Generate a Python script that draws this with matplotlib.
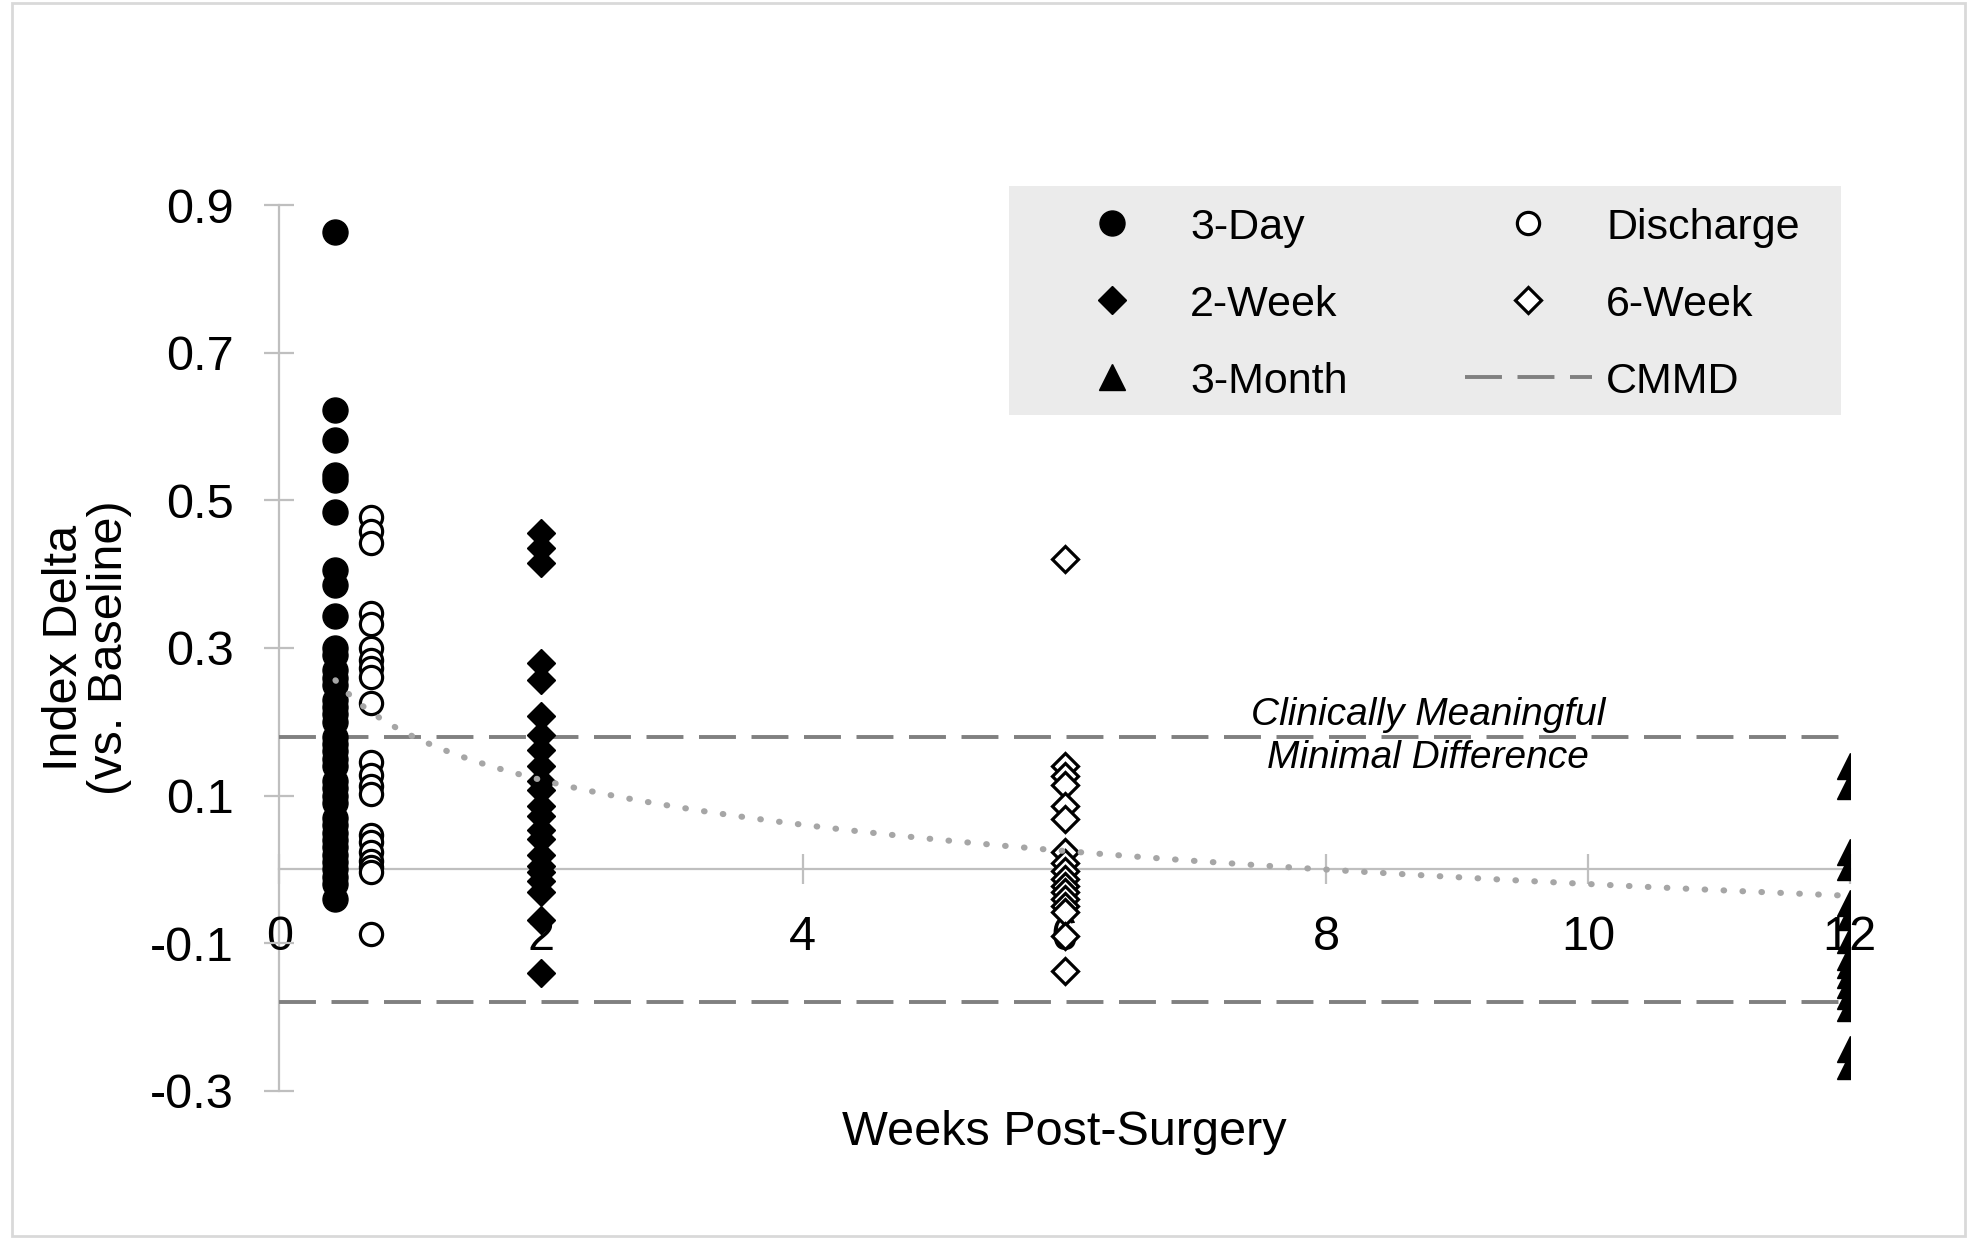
import numpy as np
import matplotlib.pyplot as plt
from matplotlib.patches import Rectangle
from matplotlib.lines import Line2D

plt.rcParams['font.family'] = ['Liberation Sans', 'DejaVu Sans']
plt.rcParams['axes.unicode_minus'] = False

# weeks post-surgery for each visit
x_day3 = 3 / 7
x_discharge = 0.7
x_week2 = 2
x_week6 = 6
x_month3 = 12

# index delta vs baseline
day3 = [0.863, 0.623, 0.582, 0.535, 0.527, 0.484, 0.405, 0.385, 0.343,
        0.30, 0.29, 0.27, 0.26, 0.25, 0.23, 0.22, 0.21, 0.20, 0.18, 0.17,
        0.16, 0.15, 0.14, 0.12, 0.11, 0.10, 0.09, 0.07, 0.06, 0.05, 0.04,
        0.03, 0.02, 0.01, 0.00, -0.01, -0.02, -0.04]
discharge = [0.477, 0.459, 0.442, 0.348, 0.333, 0.300, 0.284, 0.273, 0.261,
             0.225, 0.145, 0.128, 0.113, 0.102, 0.047, 0.037, 0.024, 0.012,
             0.004, -0.004, -0.088]
week2 = [0.456, 0.436, 0.415, 0.280, 0.257, 0.208, 0.182, 0.162, 0.140,
         0.120, 0.108, 0.086, 0.072, 0.054, 0.041, 0.019, 0.005, -0.004,
         -0.016, -0.031, -0.068, -0.140]
week6 = [0.420, 0.140, 0.126, 0.115, 0.086, 0.068, 0.023, 0.009, -0.002,
         -0.013, -0.022, -0.031, -0.040, -0.050, -0.058, -0.090, -0.138]
month3 = [0.140, 0.113, 0.023, 0.003, -0.045, -0.065, -0.095, -0.118, -0.130,
          -0.143, -0.157, -0.172, -0.188, -0.243, -0.266]

# excel log trendline y = slope*ln(x) + intercept
trend_slope = -0.0876
trend_intercept = 0.182

cmmd = 0.18
xticks = [0, 2, 4, 6, 8, 10, 12]
yticks = [0.9, 0.7, 0.5, 0.3, 0.1, -0.1, -0.3]

fig = plt.figure(figsize=(19.73, 12.39), dpi=100)
ax = fig.add_axes([0.1416, 0.1195, 0.7959, 0.7150])

# CMMD band lines
for yv in (cmmd, -cmmd):
    ax.plot([0, 12], [yv, yv], color='#808080', lw=2.8, dashes=(9.5, 4), zorder=1)

mk = dict(linestyle='none', color='black', zorder=3)
h1, = ax.plot([x_day3] * len(day3), day3, marker='o', ms=18, mfc='black', mec='black', label='3-Day', **mk)
h2, = ax.plot([x_discharge] * len(discharge), discharge, marker='o', ms=16, mfc='white', mec='black', mew=2.3, label='Discharge', **mk)
h3, = ax.plot([x_week2] * len(week2), week2, marker='D', ms=14, mfc='black', mec='black', label='2-Week', **mk)
h4, = ax.plot([x_week6] * len(week6), week6, marker='D', ms=13.5, mfc='white', mec='black', mew=2.3, label='6-Week', **mk)
h5, = ax.plot([x_month3] * len(month3), month3, marker='^', ms=19, mfc='black', mec='black', label='3-Month', **mk)

xt = np.linspace(x_day3, x_month3, 300)
ax.plot(xt, trend_slope * np.log(xt) + trend_intercept, color='#a6a6a6', lw=4.4,
        linestyle=(0, (0.1, 3.0)), dash_capstyle='round', zorder=4)

ax.text(8.78, cmmd, 'Clinically Meaningful\nMinimal Difference', ha='center', va='center',
        fontsize=28, style='italic', linespacing=1.27, zorder=5)

ax.set_xlim(0, 12)
ax.set_ylim(-0.3, 0.9)
ax.set_xticks(xticks)
ax.set_yticks(yticks)
ax.set_yticklabels(['%.1f' % v for v in yticks])
ax.spines['top'].set_visible(False)
ax.spines['right'].set_visible(False)
ax.spines['bottom'].set_position(('data', 0))
for s in ('left', 'bottom'):
    ax.spines[s].set_color('#bfbfbf')
    ax.spines[s].set_linewidth(1.6)
    ax.spines[s].set_zorder(0.5)
ax.tick_params(axis='both', direction='inout', length=21, width=1.6, color='#bfbfbf',
               labelsize=35, pad=22)

ax.set_xlabel('Weeks Post-Surgery', fontsize=35)
ax.xaxis.set_label_coords(0.5, -0.021)
ax.set_ylabel('Index Delta\n(vs. Baseline)', fontsize=35, linespacing=1.0)
ax.yaxis.set_label_coords(-0.0938, 0.5)

# legend with grey background box
ax.add_patch(Rectangle((0.4647, 0.763), 0.5298, 0.2584, transform=ax.transAxes,
                       facecolor='#ebebeb', edgecolor='none', clip_on=False, zorder=0))
h6 = Line2D([], [], color='#808080', lw=2.8, dashes=(9.5, 4))
ax.legend([h1, h3, h5, h2, h4, h6], ['3-Day', '2-Week', '3-Month', 'Discharge', '6-Week', 'CMMD'],
          ncol=2, loc='center left', bbox_to_anchor=(0.4765, 0.8877), frameon=False,
          fontsize=31, borderpad=0, handlelength=2.93, handletextpad=0.34,
          columnspacing=2.74, labelspacing=0.86, markerscale=1.0, numpoints=1)

fig.patches.append(Rectangle((12 / 1973, 3 / 1239), 1953 / 1973, 1233 / 1239,
                             transform=fig.transFigure, fill=False,
                             edgecolor='#d9d9d9', lw=2))

fig.savefig('out.png', dpi=100)
